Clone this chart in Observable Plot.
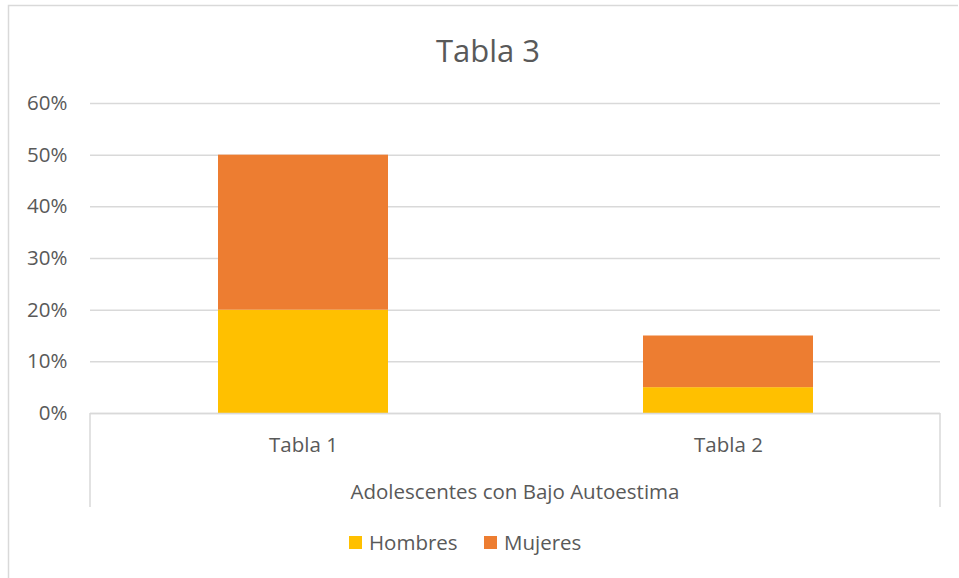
<!DOCTYPE html>
<html>
<head>
<meta charset="utf-8">
<script src="https://cdn.jsdelivr.net/npm/d3@7"></script>
<script src="https://cdn.jsdelivr.net/npm/@observablehq/plot@0.6"></script>
<style>
  body { margin: 0; background: #fff; }
  #chart { position: relative; width: 959px; height: 578px; overflow: hidden; }
</style>
</head>
<body>
<div id="chart"></div>
<script>
const title = "Tabla 3";
const groupLabel = "Adolescentes con Bajo Autoestima";
const categories = ["Tabla 1", "Tabla 2"];
const series = ["Hombres", "Mujeres"];
const hombres = [0.20, 0.05];
const mujeres = [0.30, 0.10];
const colors = ["#FFC000", "#ED7D31"];
const yTicks = [0, 0.1, 0.2, 0.3, 0.4, 0.5, 0.6];

const data = [];
categories.forEach((c, i) => {
  data.push({cat: c, serie: "Hombres", value: hombres[i]});
  data.push({cat: c, serie: "Mujeres", value: mujeres[i]});
});

const W = 959, H = 578;
const font = "'Open Sans', sans-serif";
const fs = 20.5;
const textColor = "#595959";
const gridColor = "#D9D9D9";

const decorations = (index, scales, values, dims) => {
  const svg = d3.create("svg:g").attr("text-anchor", "start");
  const x0 = dims.marginLeft, x1 = dims.width - dims.marginRight;
  const yb = dims.height - dims.marginBottom;
  // outer chart border (cut by window)
  svg.append("path")
    .attr("d", `M8.5,${H + 2}V5.5H${W - 1}`)
    .attr("fill", "none").attr("stroke", gridColor).attr("stroke-width", 1.5);
  // category box vertical lines
  [x0, x1].forEach(x => svg.append("line")
    .attr("x1", x).attr("x2", x).attr("y1", yb).attr("y2", 507)
    .attr("stroke", gridColor).attr("stroke-width", 1.5));
  // title
  svg.append("text").attr("x", 488).attr("y", 62)
    .attr("text-anchor", "middle").attr("fill", textColor)
    .attr("font-family", font).attr("font-size", 31)
    .text(title);
  // group label
  svg.append("text").attr("x", (x0 + x1) / 2).attr("y", 499)
    .attr("text-anchor", "middle").attr("fill", textColor)
    .attr("font-family", font).attr("font-size", fs)
    .text(groupLabel);
  // legend
  const legendX = [349, 484];
  series.forEach((s, i) => {
    svg.append("rect").attr("x", legendX[i]).attr("y", 536)
      .attr("width", 13).attr("height", 13).attr("fill", colors[i]);
    svg.append("text").attr("x", legendX[i] + 20).attr("y", 550)
      .attr("text-anchor", "start")
      .attr("fill", textColor).attr("font-family", font).attr("font-size", fs)
      .text(s);
  });
  return svg.node();
};

const chart = Plot.plot({
  width: W,
  height: H,
  marginLeft: 90,
  marginRight: 19,
  marginTop: 103,
  marginBottom: 165,
  style: {fontFamily: font, fontSize: fs + "px", color: textColor, background: "white"},
  x: {domain: categories, paddingInner: 0.6, paddingOuter: 0.3, label: null},
  y: {domain: [0, 0.6], label: null},
  color: {domain: series, range: colors},
  marks: [
    Plot.ruleY(yTicks, {stroke: gridColor, strokeWidth: 1.5}),
    Plot.barY(data, Plot.stackY({x: "cat", y: "value", fill: "serie", order: series})),
    Plot.ruleY([0], {stroke: gridColor, strokeWidth: 1.5}),
    Plot.axisY({ticks: yTicks, tickFormat: d3.format(".0%"), tickSize: 0, tickPadding: 23, fill: textColor, fontSize: fs, label: null}),
    Plot.axisX({tickSize: 0, tickPadding: 24, fill: textColor, fontSize: fs, label: null}),
    decorations
  ]
});
document.getElementById("chart").appendChild(chart);
</script>
</body>
</html>
